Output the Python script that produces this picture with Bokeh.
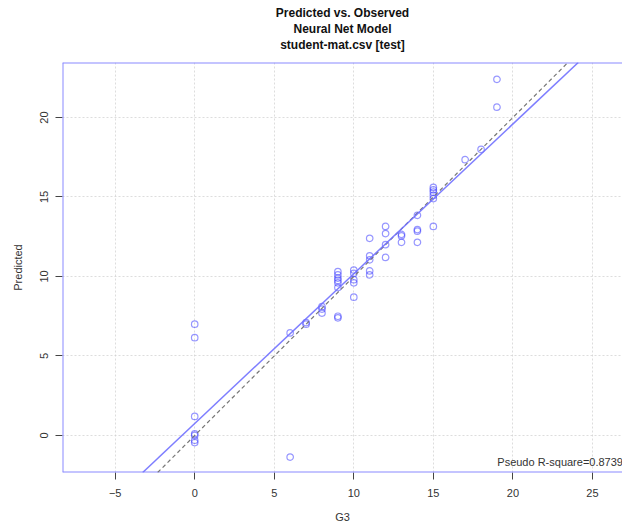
from bokeh.plotting import figure
from bokeh.models import Slope, Span, Title, FixedTicker, Range1d, ColumnDataSource
from bokeh.core.properties import value
from bokeh.embed import file_html
from bokeh.resources import INLINE

# ---- data ----
observed = [0, 0, 0, 0, 0, 0, 0,
            6, 6,
            7, 7,
            8, 8, 8,
            9, 9, 9, 9, 9, 9, 9, 9,
            10, 10, 10, 10, 10,
            11, 11, 11, 11, 11,
            12, 12, 12, 12,
            13, 13, 13,
            14, 14, 14, 14,
            15, 15, 15, 15, 15, 15,
            17, 18, 19, 19]
predicted = [7.0, 6.15, 1.2, 0.1, 0.0, -0.3, -0.45,
             6.45, -1.36,
             7.1, 7.0,
             8.1, 7.95, 7.7,
             10.3, 10.1, 9.9, 9.75, 9.6, 9.3, 7.5, 7.4,
             10.4, 10.2, 9.8, 9.6, 8.7,
             12.4, 11.3, 11.05, 10.35, 10.1,
             13.15, 12.7, 12.0, 11.2,
             12.65, 12.55, 12.15,
             13.85, 12.95, 12.85, 12.15,
             15.6, 15.45, 15.3, 15.1, 14.9, 13.15,
             17.35, 18.0, 22.4, 20.65]
fit_slope = 0.942
fit_intercept = 0.75
x_ticks = [-5, 0, 5, 10, 15, 20, 25]
y_ticks = [0, 5, 10, 15, 20]
title_lines = ["Predicted vs. Observed", "Neural Net Model", "student-mat.csv [test]"]
r_square_text = "Pseudo R-square=0.8739"
x_label = "G3"
y_label = "Predicted"

XMIN, XMAX = -8.31, 26.89
YMIN, YMAX = -2.33, 23.46

FONT = "Liberation Sans"
BOX = "#8a8aff"

p = figure(width=622, height=526, output_backend="svg", toolbar_location=None,
           x_range=Range1d(XMIN, XMAX), y_range=Range1d(YMIN, YMAX),
           min_border_left=62, min_border_right=0, min_border_top=62, min_border_bottom=54,
           title=None)
p.outline_line_color = None
p.background_fill_color = "white"
p.border_fill_color = "white"

# spacer between the title block and the plot box
p.add_layout(Title(text=" ", text_font=FONT, text_font_size="8px", standoff=0), "above")
for line in reversed(title_lines):
    p.add_layout(Title(text=line, align="center", text_font=FONT, text_font_size="12px",
                       text_font_style="bold", text_color="#111111",
                       standoff=0, offset=0), "above")

# grid
p.xgrid.ticker = FixedTicker(ticks=x_ticks)
p.ygrid.ticker = FixedTicker(ticks=y_ticks)
for g in (p.xgrid, p.ygrid):
    g.grid_line_color = "#cfcfcf"
    g.grid_line_dash = "2 2"
    g.grid_line_alpha = 0.7

# axes
p.xaxis.ticker = FixedTicker(ticks=x_ticks)
p.yaxis.ticker = FixedTicker(ticks=y_ticks)
for ax in (p.xaxis, p.yaxis):
    ax.axis_line_color = None
    ax.major_tick_out = 7
    ax.major_tick_in = 0
    ax.major_tick_line_color = "#444444"
    ax.minor_tick_line_color = None
    ax.major_label_text_font = FONT
    ax.major_label_text_font_size = "11px"
    ax.major_label_text_color = "#333333"
    ax.axis_label_text_font = FONT
    ax.axis_label_text_font_size = "11px"
    ax.axis_label_text_font_style = "normal"
    ax.axis_label_text_color = "#333333"
p.xaxis.axis_label = x_label
p.yaxis.axis_label = y_label
p.yaxis.major_label_orientation = "vertical"
p.xaxis.major_label_standoff = 9
p.yaxis.major_label_standoff = 7
p.xaxis.axis_label_standoff = 11
p.yaxis.axis_label_standoff = 14

# box (left, top, bottom; right side runs off the picture)
p.add_layout(Span(location=XMIN, dimension="height", line_color=BOX, line_width=2))
p.add_layout(Span(location=YMAX, dimension="width", line_color=BOX, line_width=2))
p.add_layout(Span(location=YMIN, dimension="width", line_color=BOX, line_width=2))

# lines
p.add_layout(Slope(gradient=1, y_intercept=0, line_color="#777777", line_dash="4 3",
                   line_width=1.2))
p.add_layout(Slope(gradient=fit_slope, y_intercept=fit_intercept, line_color="#7070ff",
                   line_width=1.5, line_alpha=0.9))

src = ColumnDataSource(dict(x=observed, y=predicted))
p.scatter("x", "y", source=src, marker="circle", size=6.5, fill_color=None,
          line_color="#3030ff", line_alpha=0.5, line_width=1.2)

p.text(x=[19.02], y=[-1.64], text=[r_square_text], text_font=value(FONT),
       text_font_size="11px", text_color="#333333", text_baseline="middle",
       text_align="left")

open("out.html", "w").write(file_html(p, INLINE))
